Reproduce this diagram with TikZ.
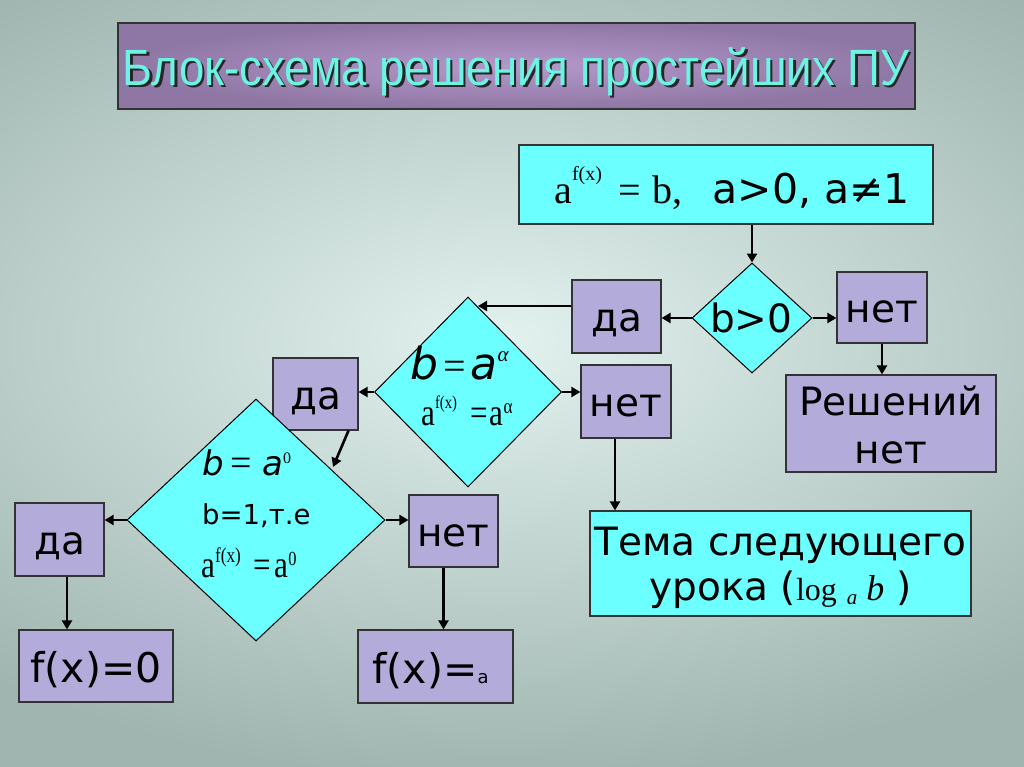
\documentclass[tikz,border=0pt]{standalone}
\usepackage{fontspec}
\setmainfont{DejaVu Sans}
\newfontfamily\sr{Liberation Serif}
\newfontfamily\srn[FakeStretch=0.82]{Liberation Serif}
\newfontfamily\ttlfont[FakeStretch=0.895]{Liberation Sans}
\usetikzlibrary{shapes.geometric,arrows.meta,calc}
\definecolor{cy}{HTML}{6CFFFF}
\definecolor{lav}{HTML}{B3ABD9}
\definecolor{bgin}{HTML}{E2F2EF}
\definecolor{bgout}{HTML}{A0B5AF}
\definecolor{ttlc}{HTML}{6CF3E3}
\definecolor{pin}{HTML}{B499CB}
\definecolor{pout}{HTML}{8F77A5}
\definecolor{edge}{HTML}{333333}
\definecolor{shd}{HTML}{262626}
\newcommand{\ttltext}{Блок-схема решения простейших ПУ}
\tikzset{
 bx/.style={draw=edge, line width=1.2pt, fill=lav, inner sep=0pt, font=\fontsize{39}{39}\selectfont, text height=30pt, text depth=0pt},
 cbx/.style={bx, fill=cy},
 dia/.style={diamond, draw=black, line width=1pt, fill=cy, inner sep=0pt},
 dtxt/.style={anchor=base west, inner sep=0pt},
 arr/.style={line width=2.6pt, -{Triangle[length=9pt,width=10pt]}},
}
\begin{document}
\begin{tikzpicture}[x=1pt,y=-1pt]
\useasboundingbox (0,0) rectangle (1024,767);
\begin{scope}
\clip (0,0) rectangle (1024,767);
\shade[inner color=bgin, outer color=bgout] (-300,-100) rectangle (1300,780);
\end{scope}
% title
\node[draw=edge, line width=1.2pt, inner color=pin, outer color=pout, minimum width=797pt, minimum height=86pt, inner sep=0pt] (title) at (516.5,66) {};
\node[font=\ttlfont\fontsize{51}{51}\selectfont, text height=37pt, text depth=0pt, inner sep=0pt] (ttl) at (516,67)
 {\rlap{\hspace{2.5pt}\raisebox{-2.5pt}{\textcolor{shd}{\ttltext}}}\textcolor{ttlc}{\ttltext}};
% top box
\node[cbx, minimum width=414pt, minimum height=79pt, text height=39pt] (top) at (726,184.5)
 {\hspace*{12pt}{\sr\fontsize{40}{40}\selectfont a\raisebox{23pt}{\fontsize{20}{20}\selectfont f(x)}\hspace{16pt}=\hspace{12pt}b,}\hspace{30pt}{\fontsize{41}{41}\selectfont a>0, a≠1}};
% diamond 1
\node[dia, minimum width=120pt, minimum height=110pt] (d1) at (752,318) {};
\node[dtxt, font=\fontsize{39}{39}\selectfont] (d1t) at (710,332) {b>0};
\node[bx, minimum width=90pt, minimum height=71pt] (net1) at (882,307.5) {нет};
\node[bx, minimum width=89pt, minimum height=73pt] (da1) at (616.5,316.5) {да};
\node[bx, minimum width=210pt, minimum height=97pt, align=center, text height=79pt, text depth=0pt, font=\fontsize{39}{48}\selectfont] (resh) at (891,423.5) {Решений\\нет};
% diamond 2
\node[dia, minimum width=187pt, minimum height=190pt] (d2) at (468,392) {};
\node[dtxt, font=\fontsize{44}{44}\selectfont] (d2a) at (410,379)
 {\itshape b\hspace{5pt}{\sr\upshape\fontsize{40}{40}\selectfont =}\hspace{5pt}a\raisebox{18pt}{\sr\fontsize{21}{21}\selectfont α}};
\node[dtxt, font=\srn\fontsize{38}{38}\selectfont] (d2b) at (421,425)
 {a\raisebox{17pt}{\fontsize{18}{18}\selectfont f(x)}\hspace{13pt}=\hspace{2pt}a\raisebox{12pt}{\fontsize{21}{21}\selectfont α}};
\node[bx, minimum width=90pt, minimum height=73pt] (net2) at (626,401.5) {нет};
\node[cbx, minimum width=381pt, minimum height=105pt, align=center, text height=73pt, text depth=0pt, font=\fontsize{39}{45}\selectfont] (tema) at (780.5,563.5)
 {Тема следующего\\урока ({\sr\fontsize{32}{32}\selectfont log}\hspace{10pt}\raisebox{-4pt}{\sr\itshape\fontsize{21}{21}\selectfont a}\hspace{9pt}{\sr\itshape\fontsize{36}{36}\selectfont b}\hspace{12pt})};
\node[bx, minimum width=85pt, minimum height=72pt] (da2) at (315.5,394) {да};
% diamond 3
\node[dia, minimum width=258pt, minimum height=242pt] (d3) at (256,520) {};
\node[dtxt, font=\fontsize{34}{34}\selectfont] (d3a) at (202,475)
 {\itshape b\hspace{7pt}{\sr\upshape\fontsize{38}{38}\selectfont =}\hspace{10pt}a\raisebox{12pt}{\sr\upshape\fontsize{16}{16}\selectfont 0}};
\node[dtxt, font=\fontsize{27.5}{27.5}\selectfont] (d3b) at (202,524) {b=1,т.е};
\node[dtxt, font=\srn\fontsize{38}{38}\selectfont] (d3c) at (201,577)
 {a\raisebox{15pt}{\fontsize{21}{21}\selectfont f(x)}\hspace{13pt}=\hspace{3pt}a\raisebox{12pt}{\fontsize{20}{20}\selectfont 0}};
\node[bx, minimum width=89pt, minimum height=73pt] (da3) at (59.5,539.5) {да};
\node[bx, minimum width=154pt, minimum height=72pt, font=\fontsize{41}{41}\selectfont, text height=32pt] (f0) at (96,666) {f(x)=0};
\node[bx, minimum width=89pt, minimum height=72pt] (net3) at (453.5,531) {нет};
\node[bx, minimum width=155pt, minimum height=73pt, font=\fontsize{41}{41}\selectfont, text height=33pt] (fa) at (435.5,666.5) {f(x)={\fontsize{18}{18}\selectfont a}\hspace*{10pt}};
% connectors
\draw[arr] (d1.north |- top.south) -- (d1.north);
\draw[arr] (d1.east) -- (d1.east -| net1.west);
\draw[arr] (d1.west) -- (d1.west -| da1.east);
\coordinate (d2in) at (478,306);
\draw[arr] (d2in -| da1.west) -- (d2in);
\draw[arr] (net1.south) -- (net1.south |- resh.north);
\draw[arr] (d2.east) -- (d2.east -| net2.west);
\coordinate (n2s) at ([xshift=-11pt]net2.south);
\draw[arr] (n2s) -- (n2s |- tema.north);
\draw[arr] (d2.west) -- (d2.west -| da2.east);
\coordinate (da2o) at ([xshift=33pt]da2.south);
\coordinate (d3in) at (333,467);
\draw[arr] (da2o) -- (d3in);
\draw[arr] (d3.west) -- (d3.west -| da3.east);
\coordinate (da3o) at ([xshift=7.5pt]da3.south);
\draw[arr] (da3o) -- (da3o |- f0.north);
\draw[arr] (d3.east) -- (d3.east -| net3.west);
\coordinate (n3s) at ([xshift=-10pt]net3.south);
\draw[arr] (n3s) -- (n3s |- fa.north);
\end{tikzpicture}
\end{document}
